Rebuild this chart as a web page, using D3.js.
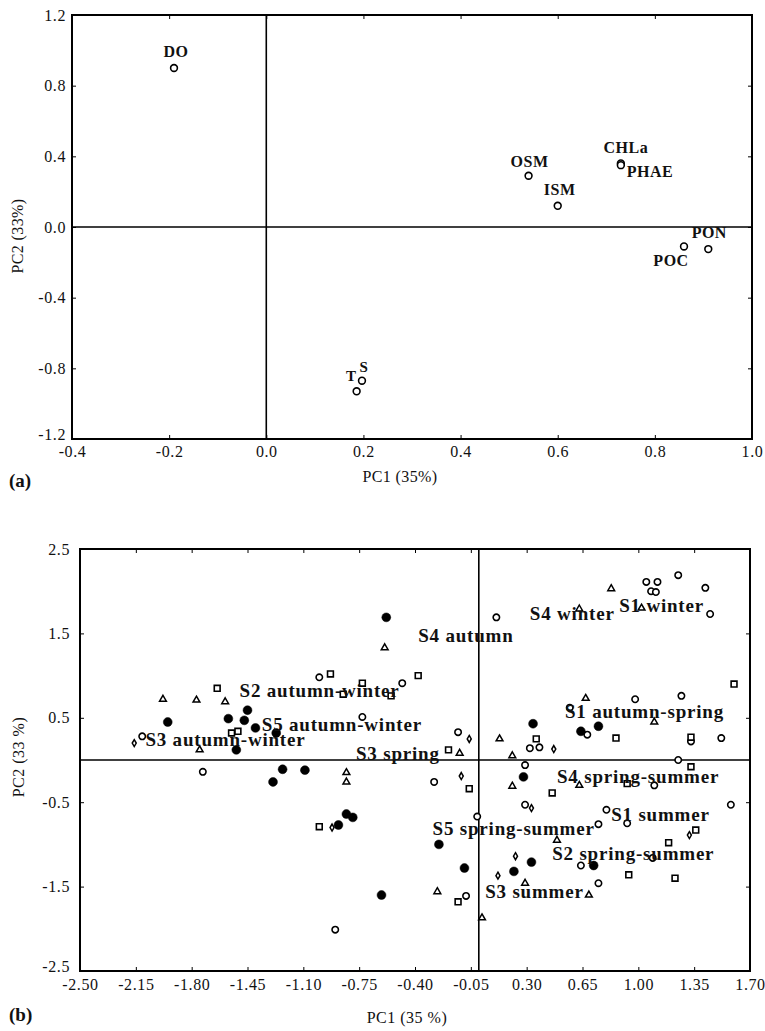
<!DOCTYPE html>
<html><head><meta charset="utf-8">
<script src="https://cdn.jsdelivr.net/npm/d3@7"></script>
<style>
body{margin:0;background:#fff}
text{font-family:"Liberation Serif","Times New Roman",serif;fill:#111}
</style>
</head><body>
<svg id="c" width="765" height="1031"></svg>
<script>
// ---------- Panel (a): variable loadings ----------
const aVars = ["DO","OSM","ISM","CHLa","PHAE","POC","PON","S","T"];
const aPC1  = [-0.19, 0.54, 0.60, 0.73, 0.73, 0.86, 0.91, 0.197, 0.186];
const aPC2  = [0.90, 0.29, 0.12, 0.36, 0.35, -0.11, -0.125, -0.87, -0.93];
const aXTicks = [-0.4,-0.2,0.0,0.2,0.4,0.6,0.8,1.0];
const aYTicks = [-1.2,-0.8,-0.4,0.0,0.4,0.8,1.2];

// ---------- Panel (b): sample scores by symbol ----------
const openCircles = [[-2.11,0.28],[-1.73,-0.14],[0.11,1.69],[-1.00,0.98],[-0.48,0.91],[-0.73,0.51],[-0.13,0.33],[-0.28,-0.26],[-0.01,-0.67],[-0.08,-1.61],[-0.90,-2.01],[1.05,2.11],[1.12,2.11],[1.08,2.00],[1.11,1.99],[1.25,2.19],[1.42,2.04],[1.45,1.73],[0.98,0.72],[1.27,0.76],[0.57,0.62],[0.68,0.30],[1.33,0.22],[1.52,0.26],[0.32,0.14],[0.38,0.15],[1.25,0.00],[0.29,-0.06],[0.29,-0.53],[0.80,-0.59],[0.93,-0.75],[0.75,-0.76],[1.58,-0.53],[1.09,-1.16],[0.64,-1.25],[0.75,-1.46],[1.10,-0.30]];
const filledCircles = [[-1.95,0.45],[-1.57,0.49],[-1.47,0.47],[-1.45,0.59],[-1.40,0.38],[-1.52,0.12],[-1.27,0.32],[-0.58,1.69],[-1.23,-0.11],[-1.09,-0.12],[-1.29,-0.26],[-0.83,-0.64],[-0.79,-0.68],[-0.88,-0.77],[-0.25,-1.00],[-0.09,-1.28],[-0.61,-1.60],[0.34,0.43],[0.75,0.40],[0.64,0.34],[0.28,-0.20],[0.33,-1.21],[0.72,-1.25],[0.22,-1.32]];
const triangles = [[-1.98,0.72],[-1.77,0.71],[-1.59,0.69],[-1.75,0.12],[-0.59,1.33],[-0.12,0.08],[0.13,0.25],[-0.83,-0.15],[-0.83,-0.26],[-0.26,-1.56],[0.83,2.03],[1.02,1.80],[0.63,1.79],[0.67,0.73],[1.10,0.45],[0.21,0.05],[0.21,-0.31],[0.63,-0.30],[0.49,-0.95],[0.29,-1.46],[0.69,-1.60],[0.02,-1.87]];
const squares = [[-1.64,0.85],[-1.55,0.32],[-1.51,0.34],[-0.93,1.02],[-0.38,1.00],[-0.55,0.76],[-0.85,0.78],[-0.73,0.91],[-0.19,0.12],[-0.06,-0.34],[-1.00,-0.79],[-0.13,-1.68],[1.60,0.90],[0.86,0.26],[1.33,0.27],[0.36,0.25],[1.33,-0.08],[0.46,-0.39],[0.93,-0.28],[1.36,-0.83],[1.19,-0.98],[0.94,-1.36],[1.23,-1.40]];
const diamonds = [[-2.16,0.20],[-0.06,0.25],[-0.11,-0.19],[-0.92,-0.80],[0.12,-1.37],[0.47,0.13],[0.33,-0.57],[1.32,-0.89],[0.23,-1.14]];
const bLabels = ["S1 winter","S4 winter","S4 autumn","S2 autumn-winter","S5 autumn-winter","S3 autumn-winter","S3 spring","S1 autumn-spring","S4 spring-summer","S1 summer","S5 spring-summer","S2 spring-summer","S3 summer"];
const bLabelPC1 = [0.88,0.32,-0.38,-1.50,-1.36,-2.09,-0.77,0.54,0.49,0.83,-0.29,0.46,0.04];
const bLabelPC2 = [1.75,1.66,1.40,0.75,0.34,0.17,0.00,0.50,-0.27,-0.72,-0.89,-1.18,-1.63];
const bXTicks = [-2.50,-2.15,-1.80,-1.45,-1.10,-0.75,-0.40,-0.05,0.30,0.65,1.00,1.35,1.70];
const bYTicks = [-2.5,-1.5,-0.5,0.5,1.5,2.5];

const svg = d3.select("#c");

// label offsets for panel (a) (px, styling only)
const aOff = {DO:[2,-11,"middle"],OSM:[1,-9,"middle"],ISM:[2,-11,"middle"],CHLa:[5,-10,"middle"],PHAE:[6,12,"start"],POC:[-13,20,"middle"],PON:[1,-11,"middle"],S:[2,-9,"middle"],T:[0,-10,"end"]};

const hy = f => d => f(d).replace("\u2212","-");

function frame(g, x, y, xTicks, yTicks, fmtX, fmtY, tickFs, xLabDy, yLabDx){
  const [x0,x1] = x.range(), [y1,y0] = y.range();
  const style = s=>{s.select(".domain").remove();s.selectAll("line").attr("stroke","#000");
    s.selectAll("text").attr("font-size",tickFs).attr("font-family","Liberation Serif").attr("fill","#111").attr("letter-spacing",0.6);};
  g.append("g").attr("transform",`translate(0,${y1})`)
    .call(d3.axisBottom(x).tickValues(xTicks).tickFormat(fmtX).tickSize(-4).tickPadding(xLabDy)).call(style);
  const yax = g.append("g").attr("transform",`translate(${x0},0)`)
    .call(d3.axisLeft(y).tickValues(yTicks).tickFormat(fmtY).tickSize(-4).tickPadding(yLabDx)).call(style);
  // lift the lowest y label slightly so it clears the first x label
  yax.selectAll(".tick").filter(d=>d===yTicks[0]).select("text").attr("dy","0.05em");
  g.append("g").attr("transform",`translate(0,${y0})`)
    .call(d3.axisTop(x).tickValues(xTicks).tickFormat("").tickSize(-4))
    .call(s=>{s.select(".domain").remove();});
  g.append("g").attr("transform",`translate(${x1},0)`)
    .call(d3.axisRight(y).tickValues(yTicks).tickFormat("").tickSize(-4))
    .call(s=>{s.select(".domain").remove();});
  g.append("line").attr("x1",x(0)).attr("x2",x(0)).attr("y1",y0).attr("y2",y1).attr("stroke","#000").attr("stroke-width",1.6);
  g.append("line").attr("x1",x0).attr("x2",x1).attr("y1",y(0)).attr("y2",y(0)).attr("stroke","#000").attr("stroke-width",1.6);
  g.append("rect").attr("x",x0).attr("y",y0).attr("width",x1-x0).attr("height",y1-y0)
    .attr("fill","none").attr("stroke","#000").attr("stroke-width",2);
}

// ---------- Panel (a) ----------
const ax = d3.scaleLinear().domain([-0.4,1.0]).range([72,752]);
const ay = d3.scaleLinear().domain([-1.2,1.2]).range([439,15]);
const ga = svg.append("g");
frame(ga, ax, ay, aXTicks, aYTicks, hy(d3.format(".1f")), hy(d3.format(".1f")), 16, 7, 6);
const aData = aVars.map((v,i)=>({v, x:aPC1[i], y:aPC2[i]}));
ga.selectAll("circle.pt").data(aData).join("circle")
  .attr("cx",d=>ax(d.x)).attr("cy",d=>ay(d.y)).attr("r",3.4)
  .attr("fill","#fff").attr("stroke","#000").attr("stroke-width",1.6);
ga.selectAll("text.lab").data(aData).join("text")
  .attr("x",d=>ax(d.x)+aOff[d.v][0]).attr("y",d=>ay(d.y)+aOff[d.v][1])
  .attr("text-anchor",d=>aOff[d.v][2]).attr("font-weight","bold")
  .attr("font-size",d=>(d.v==="S"||d.v==="T")?15:16).attr("letter-spacing",0.5)
  .text(d=>d.v);
ga.append("text").attr("x",400).attr("y",482).attr("text-anchor","middle").attr("font-size",16).attr("letter-spacing",0.4).text("PC1 (35%)");
ga.append("text").attr("transform","translate(23,236) rotate(-90)").attr("text-anchor","middle").attr("font-size",16).attr("letter-spacing",0.4).text("PC2 (33%)");
ga.append("text").attr("x",9).attr("y",487).attr("font-weight","bold").attr("font-size",19).text("(a)");

// ---------- Panel (b) ----------
const bx = d3.scaleLinear().domain([-2.5,1.7]).range([80,750]);
const by = d3.scaleLinear().domain([-2.5,2.5]).range([971,549]);
const gb = svg.append("g");
frame(gb, bx, by, bXTicks, bYTicks, hy(d3.format(".2f")), hy(d3.format(".1f")), 16, 8, 10);

const sym = (type,size)=>d3.symbol().type(type).size(size)();
function drawSet(data, type, size, fill, sw){
  gb.append("g").selectAll("path").data(data).join("path")
    .attr("transform",d=>`translate(${bx(d[0])},${by(d[1])})`)
    .attr("d",sym(type,size)).attr("fill",fill).attr("stroke","#000").attr("stroke-width",sw);
}
drawSet(openCircles, d3.symbolCircle, 32, "#fff", 1.6);
drawSet(filledCircles, d3.symbolCircle, 62, "#000", 0.5);
drawSet(triangles, d3.symbolTriangle, 20, "#fff", 1.5);
drawSet(squares, d3.symbolSquare, 34, "#fff", 1.6);
drawSet(diamonds, d3.symbolDiamond, 14, "#fff", 1.5);

gb.selectAll("text.lab").data(bLabels).join("text")
  .attr("x",(d,i)=>bx(bLabelPC1[i])).attr("y",(d,i)=>by(bLabelPC2[i]))
  .attr("font-weight","bold").attr("font-size",19).attr("letter-spacing",0.8).text(d=>d);
gb.append("text").attr("x",407).attr("y",1023).attr("text-anchor","middle").attr("font-size",16).attr("letter-spacing",0.5).text("PC1 (35 %)");
gb.append("text").attr("transform","translate(24,757) rotate(-90)").attr("text-anchor","middle").attr("font-size",16).attr("letter-spacing",0.5).text("PC2 (33 %)");
gb.append("text").attr("x",9).attr("y",1021).attr("font-weight","bold").attr("font-size",19).text("(b)");
</script>
</body></html>
